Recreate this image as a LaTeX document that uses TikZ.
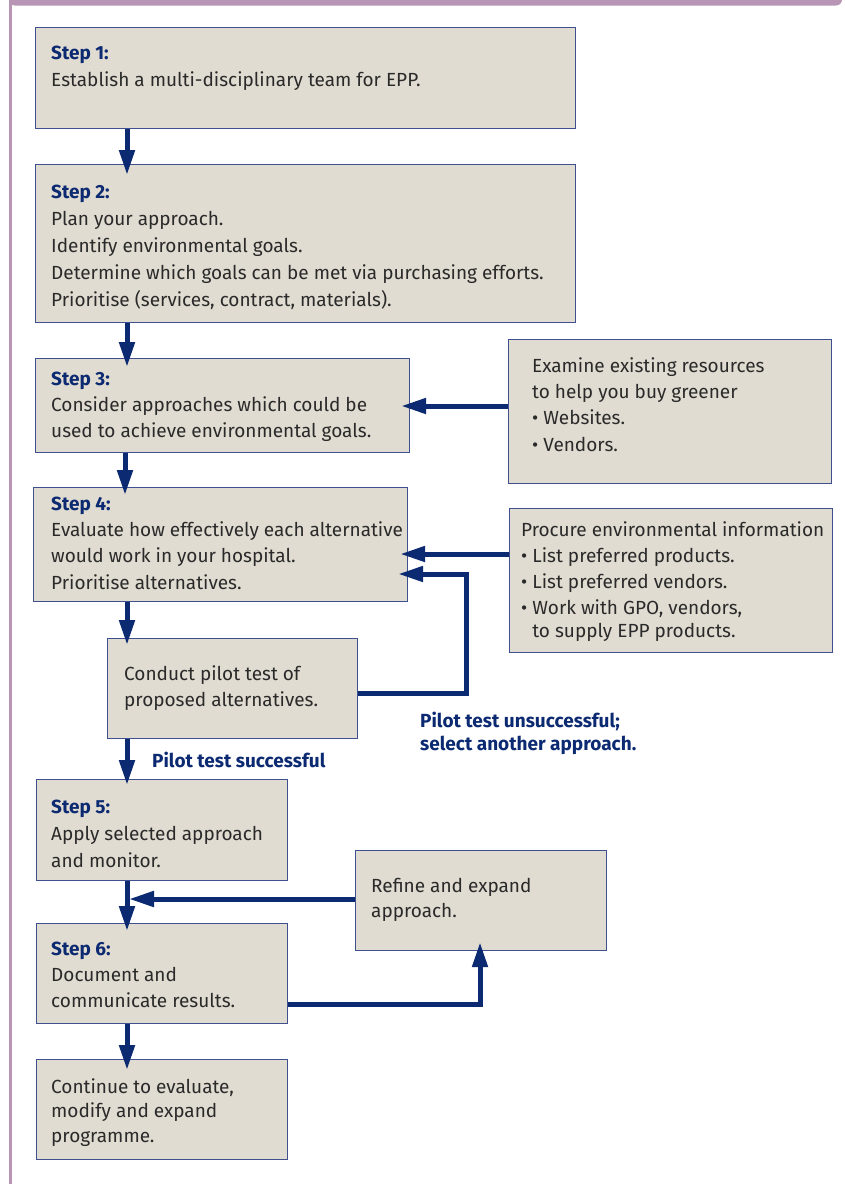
\documentclass[tikz,border=0pt]{standalone}
\usepackage{fontspec}
\setmainfont{Fira Sans}
\usetikzlibrary{arrows.meta}
\definecolor{boxfill}{HTML}{E1DCD1}
\definecolor{boxline}{HTML}{3E5090}
\definecolor{navy}{HTML}{0C2A72}
\definecolor{txtc}{HTML}{2A2A2A}
\definecolor{purp}{HTML}{B995B5}
\newcommand{\stp}[1]{{\color{navy}\bfseries #1}}
\begin{document}
\begin{tikzpicture}[x=1pt,y=-1pt,
  box/.style={draw=boxline, line width=1.2pt, fill=boxfill, anchor=north west, inner sep=0pt},
  txt/.style={anchor=base west, inner sep=0pt, align=left, text=txtc, font=\fontsize{19}{26.5}\selectfont},
  lbl/.style={anchor=base west, inner sep=0pt, align=left, text=navy, font=\fontsize{19}{23}\selectfont\bfseries},
  arr/.style={draw=navy, line width=5pt, line join=miter, -{Triangle[length=25pt,width=15pt]}},
  conn/.style={draw=navy, line width=5pt, line join=miter}
]
\useasboundingbox (0,0) rectangle (845,1184);
% frame
\begin{scope}
\clip (0,0) rectangle (845,1184);
\fill[purp, rounded corners=6pt] (9,-20) rectangle (842,5.5);
\draw[purp, line width=2.4pt] (10.5,0) -- (10.5,1184);
\end{scope}
% boxes
\node[box, minimum width=540pt, minimum height=101pt] (s1) at (35,27) {};
\node[box, minimum width=540pt, minimum height=158pt] (s2) at (35,164) {};
\node[box, minimum width=374pt, minimum height=94pt] (s3) at (35,358) {};
\node[box, minimum width=323pt, minimum height=144pt] (ex) at (508,339) {};
\node[box, minimum width=374pt, minimum height=114pt] (s4) at (33,487) {};
\node[box, minimum width=323pt, minimum height=144pt] (pr) at (509,508) {};
\node[box, minimum width=250pt, minimum height=100pt] (pi) at (107,638) {};
\node[box, minimum width=251pt, minimum height=101pt] (s5) at (36,779) {};
\node[box, minimum width=251pt, minimum height=100pt] (rf) at (355,850) {};
\node[box, minimum width=251pt, minimum height=100pt] (s6) at (36,923) {};
\node[box, minimum width=251pt, minimum height=100pt] (ct) at (36,1059) {};
% texts (anchored at the baseline of their last line)
\node[txt, font=\fontsize{19}{27}\selectfont] (t1) at (51,86) {\stp{Step 1:}\\Establish a multi-disciplinary team for EPP.};
\node[txt, font=\fontsize{19}{27}\selectfont] (t2) at (51,306) {\stp{Step 2:}\\Plan your approach.\\Identify environmental goals.\\Determine which goals can be met via purchasing efforts.\\Prioritise (services, contract, materials).};
\node[txt, font=\fontsize{19}{26}\selectfont] (t3) at (51,437) {\stp{Step 3:}\\Consider approaches which could be\\used to achieve environmental goals.};
\node[txt, font=\fontsize{19}{26.3}\selectfont] (tex) at (532,451) {Examine existing resources\\to help you buy greener\\• Websites.\\• Vendors.};
\node[txt, font=\fontsize{19}{26.3}\selectfont] (t4) at (51,589) {\stp{Step 4:}\\Evaluate how effectively each alternative\\would work in your hospital.\\Prioritise alternatives.};
\node[txt, font=\fontsize{19}{26}\selectfont] (tpr) at (521,637) {Procure environmental information\\• List preferred products.\\• List preferred vendors.\\• Work with GPO, vendors,\\[-3pt]\hphantom{• }to supply EPP products.};
\node[txt, font=\fontsize{19}{26}\selectfont] (tpi) at (124,706) {Conduct pilot test of\\proposed alternatives.};
\node[txt, font=\fontsize{19}{27}\selectfont] (t5) at (51,867) {\stp{Step 5:}\\Apply selected approach\\and monitor.};
\node[txt, font=\fontsize{19}{25}\selectfont] (trf) at (371,917) {Refine and expand\\approach.};
\node[txt, font=\fontsize{19}{26}\selectfont] (t6) at (51,1007) {\stp{Step 6:}\\Document and\\communicate results.};
\node[txt, font=\fontsize{19}{24.5}\selectfont] (tct) at (51,1142) {Continue to evaluate,\\modify and expand\\programme.};
% labels
\node[lbl] (lsucc) at (152,767) {Pilot test successful};
\node[lbl] (lfail) at (420,750) {Pilot test unsuccessful;\\select another approach.};
% coordinates
\coordinate (xa) at (127,0);
\coordinate (xb) at (125,0);
\coordinate (ya) at (0,406);
\coordinate (yb) at (0,554);
\coordinate (yc) at (0,574);
\coordinate (yd) at (0,693);
\coordinate (ye) at (0,899);
\coordinate (yf) at (0,1004);
\coordinate (k1) at (466,693);
\coordinate (k2) at (466,574);
\coordinate (k3) at (480,1004);
\coordinate (j56) at (129,899);
% vertical arrows
\draw[arr, shorten >=-11pt] (s1.south -| xa) -- (s2.north -| xa);
\draw[arr, shorten >=-9pt] (s2.south -| xa) -- (s3.north -| xa);
\draw[arr, shorten >=-8pt] (s3.south -| xb) -- (s4.north -| xb);
\draw[arr, shorten >=-7pt] (s4.south -| xa) -- (pi.north -| xa);
\draw[arr, shorten >=-6pt] (pi.south -| xa) -- (s5.north -| xa);
\draw[arr, shorten >=-8pt] (s5.south -| xa) -- (s6.north -| xa);
\draw[arr, shorten >=-11pt] (s6.south -| xa) -- (ct.north -| xa);
% side arrows
\draw[arr, shorten >=-9pt] (ex.west |- ya) -- (s3.east |- ya);
\draw[arr, shorten >=-8pt] (pr.west |- yb) -- (s4.east |- yb);
\draw[arr, shorten >=-10pt] (pi.east |- yd) -- (k1) -- (k2) -- (s4.east |- yc);
\draw[arr] (rf.west |- ye) -- (j56);
\draw[arr, shorten >=-9pt] (s6.east |- yf) -- (k3) -- (rf.south -| k3);
\end{tikzpicture}
\end{document}
